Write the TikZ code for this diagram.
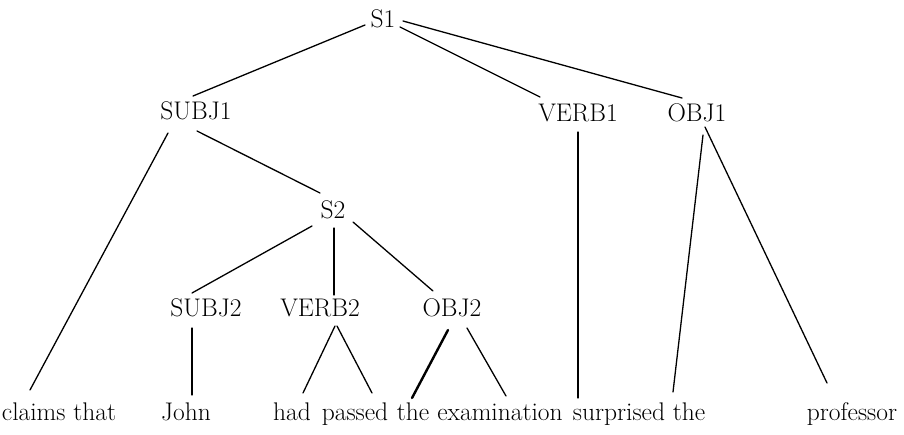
\documentclass[tikz,border=0pt]{standalone}
\begin{document}
\begin{tikzpicture}[x=1pt,y=-1pt,
  cat/.style={anchor=base,inner sep=0pt,font=\fontsize{25.5}{30}\selectfont},
  word/.style={anchor=base,inner sep=0pt,font=\fontsize{25.5}{30}\selectfont},
  branch/.style={line width=1.3pt,line cap=round}]
\useasboundingbox (0,0) rectangle (904,434);

% category labels (placed on their baselines)
\node[cat] (S1)    at (383,27)  {S1};
\node[cat] (SUBJ1) at (196,119) {SUBJ1};
\node[cat] (VERB1) at (578,121) {VERB1};
\node[cat] (OBJ1)  at (697,121) {OBJ1};
\node[cat] (S2)    at (333,218) {S2};
\node[cat] (SUBJ2) at (206,316) {SUBJ2};
\node[cat] (VERB2) at (320,316) {VERB2};
\node[cat] (OBJ2)  at (452,316) {OBJ2};

% terminal words
\node[word] (claims) at (59,420)  {claims that};
\node[word] (john)   at (186,420) {John};
\node[word] (had)    at (292,420) {had};
\node[word] (passed) at (355,420) {passed};
\node[word] (theA)   at (413,420) {the};
\node[word] (exam)   at (500,420) {examination};
\node[word] (surp)   at (619,420) {surprised};
\node[word] (theB)   at (689,420) {the};
\node[word] (prof)   at (852,420) {professor};

% branches of the upper clause
\draw[branch] ([shift={(-18,-2)}]S1.base) -- ([shift={(-3,-23)}]SUBJ1.base);
\draw[branch] ([shift={(17,0)}]S1.base)   -- ([shift={(-38,-24)}]VERB1.base);
\draw[branch] ([shift={(20,-6)}]S1.base)  -- ([shift={(-15,-23)}]OBJ1.base);
\draw[branch] ([shift={(-28,14)}]SUBJ1.base) -- ([shift={(-29,-30)}]claims.base);
\draw[branch] ([shift={(1,12)}]SUBJ1.base)   -- ([shift={(-13,-25)}]S2.base);
\draw[branch] ([shift={(0,11)}]VERB1.base)   -- ([shift={(-41,-22)}]surp.base);
\draw[branch] ([shift={(6,14)}]OBJ1.base)    -- ([shift={(-16,-28)}]theB.base);
\draw[branch] ([shift={(8,6)}]OBJ1.base)     -- ([shift={(-25,-37)}]prof.base);

% branches of the embedded clause
\draw[branch] ([shift={(-21,8)}]S2.base) -- ([shift={(-14,-23)}]SUBJ2.base);
\draw[branch] ([shift={(1,10)}]S2.base)  -- ([shift={(14,-21)}]VERB2.base);
\draw[branch] ([shift={(20,4)}]S2.base)  -- ([shift={(-19,-25)}]OBJ2.base);
\draw[branch] ([shift={(-14,12)}]SUBJ2.base) -- ([shift={(6,-25)}]john.base);
\draw[branch] ([shift={(15,10)}]VERB2.base)  -- ([shift={(11,-27)}]had.base);
\draw[branch] ([shift={(17,10)}]VERB2.base)  -- ([shift={(17,-27)}]passed.base);
\draw[branch,line width=2.4pt] ([shift={(-4,14)}]OBJ2.base) -- ([shift={(-1,-22)}]theA.base);
\draw[branch] ([shift={(15,12)}]OBJ2.base)   -- ([shift={(6,-24)}]exam.base);
\end{tikzpicture}
\end{document}
